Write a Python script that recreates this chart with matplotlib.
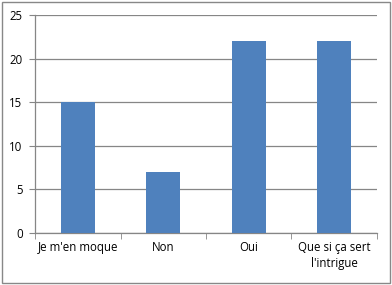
import matplotlib
matplotlib.use("Agg")
import matplotlib.pyplot as plt
from matplotlib.patches import Rectangle

categories = ["Je m'en moque", "Non", "Oui", "Que si ça sert\nl'intrigue"]
values = [15, 7, 22, 22]
yticks = [0, 5, 10, 15, 20, 25]

plt.rcParams['font.family'] = ['Open Sans', 'DejaVu Sans']

fig = plt.figure(figsize=(3.92, 2.85), dpi=100)
fig.patches.append(Rectangle((0.005, 0.007), 0.99, 0.986, transform=fig.transFigure,
                             fill=False, edgecolor='#888888', linewidth=1.0))
ax = fig.add_axes([0.0893, 0.1825, 0.8724, 0.7645])

x = list(range(len(categories)))
ax.bar(x, values, width=0.4, color='#4F81BD', zorder=3)

ax.set_xlim(-0.5, len(categories) - 0.5)
ax.set_ylim(0, 25)
ax.set_yticks(yticks)
ax.yaxis.grid(True, color='#868686', linewidth=0.9, zorder=0)

# labels at centres, tick marks between categories
ax.set_xticks(x)
ax.set_xticklabels(categories, fontsize=8.3, linespacing=1.3)
ax.tick_params(axis='x', which='major', length=0, pad=6)
ax.set_xticks([i - 0.5 for i in range(len(categories) + 1)], minor=True)
ax.tick_params(axis='x', which='minor', length=4, color='#868686', direction='out')
ax.tick_params(axis='y', labelsize=8.3, length=4, color='#868686', pad=5)

for s in ['top', 'right']:
    ax.spines[s].set_visible(False)
for s in ['left', 'bottom']:
    ax.spines[s].set_color('#868686')
    ax.spines[s].set_linewidth(0.9)

fig.savefig('out.png', dpi=100)
